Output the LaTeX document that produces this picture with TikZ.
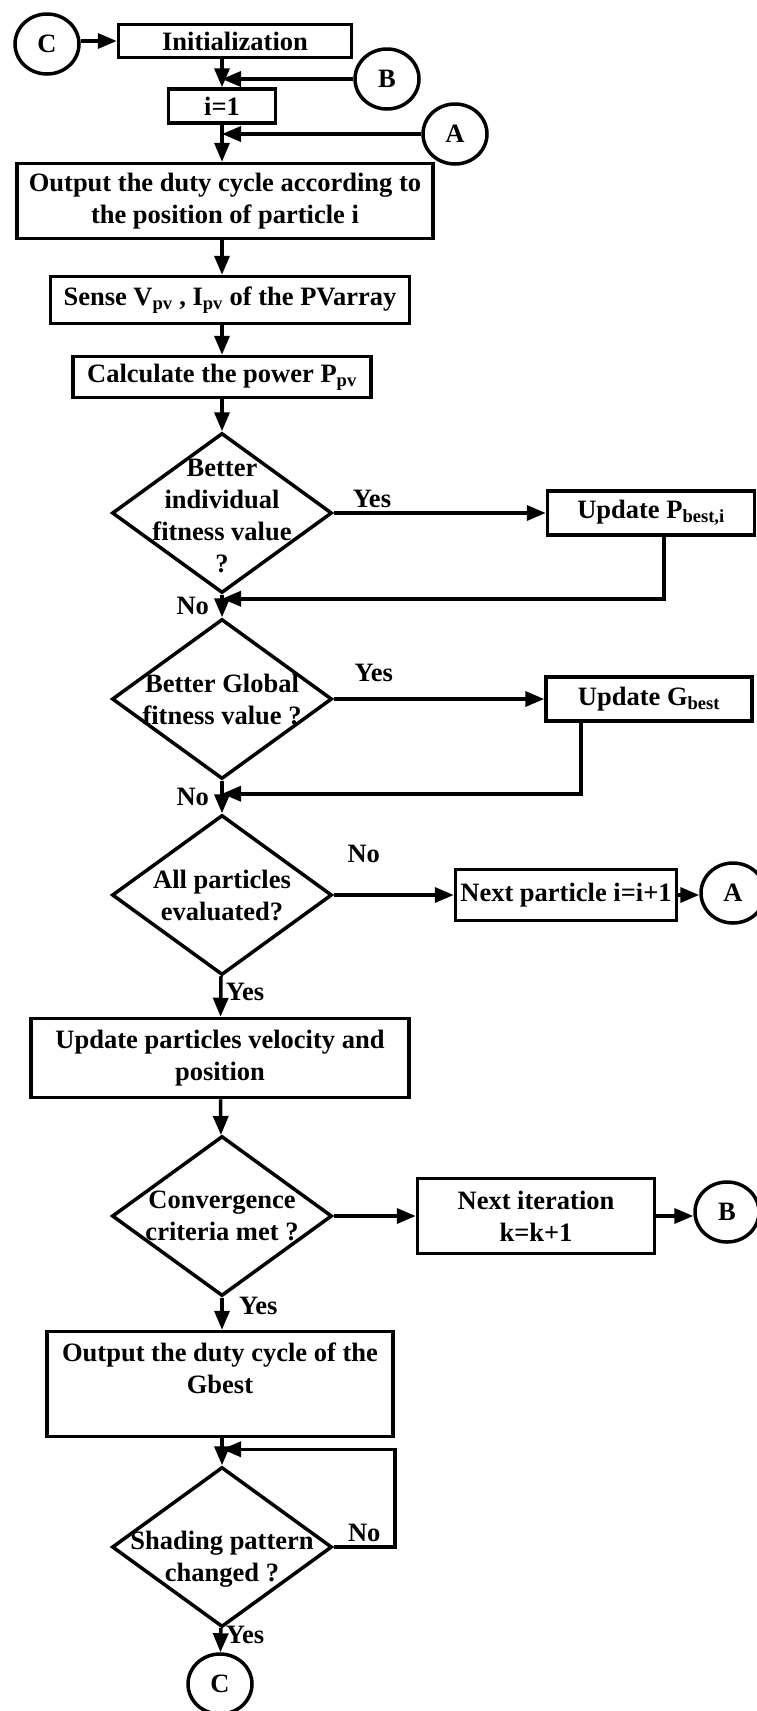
\documentclass[tikz,border=0pt]{standalone}
\usepackage{fontspec}
\setmainfont{Liberation Serif}
\usetikzlibrary{shapes.geometric,arrows.meta}

\begin{document}
\begin{tikzpicture}[x=1pt, y=-1pt, line width=3.5pt,
  font=\fontsize{26.5}{32}\selectfont\bfseries,
  box/.style={draw, rectangle, inner sep=1pt, align=center},
  decision/.style={draw, diamond, minimum width=220pt, minimum height=160pt, inner sep=0pt},
  dtext/.style={inner sep=0pt, align=center},
  connector/.style={draw, ellipse, minimum width=64pt, minimum height=60pt, inner sep=0pt},
  arr/.style={-{Triangle[length=19pt,width=15pt]}}]

\useasboundingbox (0,0) rectangle (756,1711);
\coordinate (col) at (222,0);

% start of the loop
\node[connector] (C1) at (47,44) {C};
\node[box, minimum width=233pt, minimum height=33pt] (init) at (235,41) {Initialization};
\node[connector] (B1) at (387,79) {B};
\node[box, minimum width=107pt, minimum height=34pt] (i1) at (222,106) {i=1};
\node[connector] (A1) at (455,134) {A};
\node[box, minimum width=416pt, minimum height=75pt] (out1) at (225,201) {Output the duty cycle according to\\the position of particle i};
\node[box, minimum width=359pt, minimum height=47pt] (sense) at (230,300) {Sense V\textsubscript{pv} , I\textsubscript{pv} of the PVarray};
\node[box, minimum width=298pt, minimum height=41pt] (calc) at (222,377) {Calculate the power P\textsubscript{pv}};

% personal and global best
\node[decision] (d1) at (222,513) {};
\node[dtext] (d1t) at ([yshift=-3pt]d1.center) {Better\\individual\\fitness value\\?};
\node[box, minimum width=207pt, minimum height=44pt] (pbest) at (651,513) {Update P\textsubscript{best,i}};
\node[decision] (d2) at (222,699) {};
\node[dtext] (d2t) at (d2.center) {Better Global\\fitness value ?};
\node[box, minimum width=206pt, minimum height=44pt] (gbest) at (649,699) {Update G\textsubscript{best}};

% next particle
\node[decision] (d3) at (222,895) {};
\node[dtext] (d3t) at (d3.center) {All particles\\evaluated?};
\node[box, minimum width=221pt, minimum height=51pt] (nextp) at (566,895) {Next particle i=i+1};
\node[connector] (A2) at (733,893) {A};
\node[box, minimum width=378pt, minimum height=79pt] (upd) at (220,1058) {Update particles velocity and\\position};

% next iteration
\node[decision] (d4) at (222,1216) {};
\node[dtext] (d4t) at (d4.center) {Convergence\\criteria met ?};
\node[box, minimum width=237pt, minimum height=75pt] (nexti) at (536,1216) {Next iteration\\k=k+1};
\node[connector] (B2) at (727,1212) {B};
\node[box, minimum width=346pt, minimum height=105pt] (outg) at (220,1384) {Output the duty cycle of the\\Gbest\\\mbox{}};

% shading check
\node[decision] (d5) at (222,1547) {};
\node[dtext] (d5t) at ([yshift=-12pt]d5.center) {Shading pattern\\changed ?};
\node[connector] (C2) at (220,1684) {C};

\draw[arr] (C1.east |- init) -- (init);
\draw[arr] (init.south -| col) -- (i1.north);
\draw[arr] (B1.west) -- (B1.west -| col);
\draw[arr] (i1.south) -- (i1.south |- out1.north);
\draw[arr] (A1.west) -- (A1.west -| col);
\draw[arr] (out1.south -| col) -- (sense.north -| col);
\draw[arr] (sense.south -| col) -- (calc.north);
\draw[arr] (calc) -- (d1);

\draw[arr] (d1.east) -- node[pos=.18, above] {Yes} (pbest.west);
\draw[arr] ([xshift=13pt]pbest.south) |- ([yshift=-4pt]d1.south);
\draw[arr] (d1) -- node[left=8pt] {No} (d2);

\draw[arr] (d2.east) -- node[pos=.19, above=12pt] {Yes} (gbest.west);
\draw[arr] ([xshift=-68pt]gbest.south) |- ([yshift=-13pt]d2.south);
\draw[arr] (d2) -- node[left=8pt] {No} (d3);

\draw[arr] (d3.east) -- node[pos=.25, above=27pt] {No} (nextp.west);
\draw[arr] (nextp) -- (nextp -| A2.west);
\draw[arr] (d3) -- node[pos=.4, right] {Yes} (upd);

\draw[arr] (upd) -- (d4);
\draw[arr] (d4) -- (nexti);
\draw[arr] (nexti) -- (nexti -| B2.west);
\draw[arr] (d4.south) -- node[pos=.25, right=12pt] {Yes} (d4.south |- outg.north);

\draw[arr] (outg.south -| col) -- (d5.north);
\draw[arr] (d5.east) -- node[above] {No} (d5.east -| outg.east) -- ([yshift=-11pt]outg.south east) -- ([yshift=-11pt]outg.south -| col);
\draw[arr] (d5) -- node[pos=.3, right] {Yes} (C2);

\end{tikzpicture}
\end{document}
